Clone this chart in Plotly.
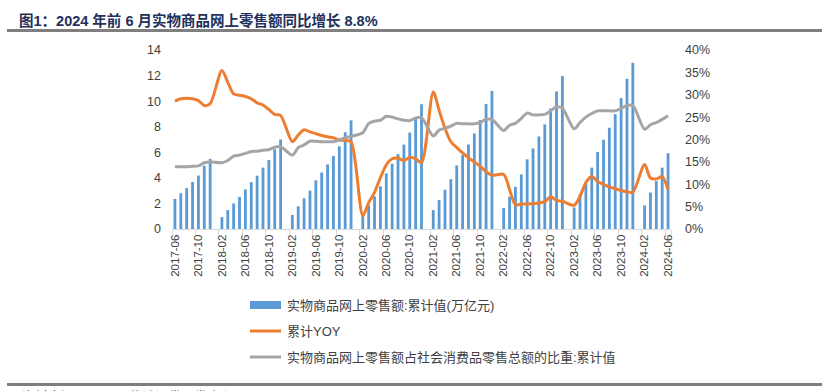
import plotly.graph_objects as go

# ---------------- data ----------------
months = []
for y in range(2017, 2025):
    for m in range(1, 13):
        if (y == 2017 and m < 6) or (y == 2024 and m > 6):
            continue
        months.append(f"{y}-{m:02d}")

# 实物商品网上零售额:累计值(万亿元)  (January not reported)
sales = [2.36, 2.80, 3.20, 3.68, 4.18, 4.95, 5.48,
         None, 0.93, 1.48, 2.00, 2.50, 3.10, 3.66, 4.17, 4.80, 5.40, 6.24, 7.00,
         None, 1.10, 1.78, 2.40, 3.00, 3.80, 4.42, 5.05, 5.72, 6.47, 7.57, 8.50,
         None, 1.12, 1.85, 2.55, 3.34, 4.35, 5.10, 5.86, 6.60, 7.55, 8.60, 9.76,
         None, 1.48, 2.27, 3.07, 3.90, 4.97, 5.78, 6.61, 7.47, 8.52, 9.77, 10.80,
         None, 1.64, 2.52, 3.30, 4.27, 5.45, 6.30, 7.24, 8.18, 9.43, 10.76, 11.96,
         None, 1.68, 2.70, 3.55, 4.80, 6.03, 6.98, 7.92, 8.98, 10.23, 11.75, 13.00,
         None, 1.85, 2.85, 3.75, 4.80, 5.93]

# 累计YOY (%)
yoy = [28.6, 29.1, 29.2, 29.1, 28.7, 27.6, 28.0,
       None, 35.4, 32.8, 30.2, 29.9, 29.6, 29.1, 28.2, 27.7, 26.7, 25.6, 25.4,
       None, 19.5, 21.0, 22.2, 21.7, 21.3, 20.9, 20.6, 20.4, 19.9, 19.8, 19.5,
       None, 3.0, 5.9, 8.2, 11.5, 14.3, 15.7, 15.8, 15.3, 16.0, 15.7, 14.8,
       None, 30.6, 26.5, 22.5, 19.5, 18.2, 17.0, 15.9, 15.0, 14.0, 12.8, 12.0,
       None, 12.2, 8.8, 5.4, 5.6, 5.6, 5.7, 5.8, 6.1, 7.2, 6.4, 6.2,
       None, 5.3, 7.3, 10.4, 11.8, 10.6, 10.0, 9.4, 9.0, 8.6, 8.3, 8.2,
       None, 14.4, 11.4, 11.2, 11.7, 8.8]

# 实物商品网上零售额占社会消费品零售总额的比重:累计值 (%)
share = [13.9, 13.9, 13.9, 14.0, 14.1, 14.8, 15.0,
         None, 14.8, 15.3, 16.3, 16.5, 16.9, 17.3, 17.4, 17.6, 17.7, 18.3, 18.4,
         None, 16.5, 18.2, 18.8, 19.6, 19.6, 19.5, 19.5, 19.5, 19.9, 20.4, 20.7,
         None, 21.5, 23.6, 24.1, 24.3, 25.2, 25.0, 24.6, 24.3, 24.2, 24.8, 24.9,
         None, 20.8, 22.1, 22.5, 23.0, 23.6, 23.5, 23.5, 23.5, 23.8, 24.5, 24.5,
         None, 22.0, 23.2, 23.6, 24.7, 25.9, 25.5, 25.5, 25.6, 26.4, 27.3, 27.0,
         None, 22.4, 23.8, 25.0, 25.8, 26.4, 26.4, 26.4, 26.4, 26.9, 27.6, 27.6,
         None, 22.3, 23.3, 23.8, 24.5, 25.3]

tick_labels = months[::4]
name_bar = "实物商品网上零售额:累计值(万亿元)"
name_yoy = "累计YOY"
name_share = "实物商品网上零售额占社会消费品零售总额的比重:累计值"
title_text = "图1：2024 年前 6 月实物商品网上零售额同比增长 8.8%"
source_text = "资料来源：Wind，信达证券研发中心"

# ---------------- layout geometry (pixels) ----------------
W, H = 829, 391
L, R, T, B = 172, 671, 50, 229

def xp(px):
    return (px - L) / (R - L)

def yp(py):
    return (B - py) / (B - T)

FONT = "Liberation Sans, Noto Sans CJK SC, sans-serif"
BLUE, ORANGE, GREY = "#5b9bd5", "#ed7d31", "#a5a5a5"

fig = go.Figure()
fig.add_trace(go.Bar(x=months, y=sales, name=name_bar,
                     marker=dict(color=BLUE, line=dict(width=0)), yaxis="y"))
fig.add_trace(go.Scatter(x=months, y=yoy, name=name_yoy, mode="lines",
                         line=dict(color=ORANGE, width=3, shape="spline", smoothing=0.8),
                         connectgaps=True, yaxis="y2"))
fig.add_trace(go.Scatter(x=months, y=share, name=name_share, mode="lines",
                         line=dict(color=GREY, width=3, shape="spline", smoothing=0.8),
                         connectgaps=True, yaxis="y2"))

tickfont = dict(family=FONT, size=12.5, color="#404040")

fig.update_layout(
    width=W, height=H,
    margin=dict(l=L, r=W - R, t=T, b=H - B, pad=0),
    paper_bgcolor="white", plot_bgcolor="white",
    showlegend=False, bargap=0.52,
    font=dict(family=FONT, color="#404040"),
    xaxis=dict(type="category", categoryorder="array", categoryarray=months,
               range=[-0.5, len(months) - 0.5],
               tickmode="array", tickvals=tick_labels, ticktext=tick_labels,
               tickangle=-90, tickfont=dict(family=FONT, size=11.5, color="#404040"),
               ticks="outside", ticklen=5, tickcolor="#d9d9d9", tickson="boundaries",
               showline=True, linecolor="#d9d9d9", linewidth=1,
               showgrid=False, zeroline=False, fixedrange=True),
    yaxis=dict(range=[0, 14], dtick=2, tick0=0, showgrid=False, zeroline=False,
               showline=False, ticks="", tickfont=tickfont, ticklabelstandoff=10),
    yaxis2=dict(range=[0, 40], dtick=5, tick0=0, ticksuffix="%", overlaying="y",
                side="right", showgrid=False, zeroline=False, showline=False,
                ticks="", tickfont=tickfont, ticklabelstandoff=13),
)

shapes = [
    dict(type="line", xref="paper", yref="paper", x0=xp(7), x1=xp(822), y0=yp(30.5), y1=yp(30.5),
         line=dict(color="#7f7f7f", width=3)),
    dict(type="line", xref="paper", yref="paper", x0=xp(7), x1=xp(822), y0=yp(384.5), y1=yp(384.5),
         line=dict(color="#7f7f7f", width=3)),
    # custom legend symbols
    dict(type="rect", xref="paper", yref="paper", x0=xp(250), x1=xp(281), y0=yp(301), y1=yp(309),
         fillcolor=BLUE, line=dict(width=0)),
    dict(type="line", xref="paper", yref="paper", x0=xp(250), x1=xp(281), y0=yp(331), y1=yp(331),
         line=dict(color=ORANGE, width=3)),
    dict(type="line", xref="paper", yref="paper", x0=xp(250), x1=xp(281), y0=yp(357), y1=yp(357),
         line=dict(color=GREY, width=3)),
]
fig.update_layout(shapes=shapes)

ann = [
    dict(text=f"<b>{title_text}</b>", x=xp(17), y=yp(21), xanchor="left", yanchor="middle",
         font=dict(family=FONT, size=14.5, color="#22305a")),
    dict(text=name_bar, x=xp(285), y=yp(305), xanchor="left", yanchor="middle",
         font=dict(family=FONT, size=13, color="#404040")),
    dict(text=name_yoy, x=xp(285), y=yp(331), xanchor="left", yanchor="middle",
         font=dict(family=FONT, size=13, color="#404040")),
    dict(text=name_share, x=xp(285), y=yp(357), xanchor="left", yanchor="middle",
         font=dict(family=FONT, size=13, color="#404040")),
    dict(text=source_text, x=xp(20), y=yp(387), xanchor="left", yanchor="top",
         font=dict(family=FONT, size=13, color="#404040")),
]
for a in ann:
    a.update(xref="paper", yref="paper", showarrow=False)
fig.update_layout(annotations=ann)

fig.write_html("out.html", config={"displayModeBar": False},
               post_script="document.body.style.margin='0';document.body.style.overflow='hidden';")
